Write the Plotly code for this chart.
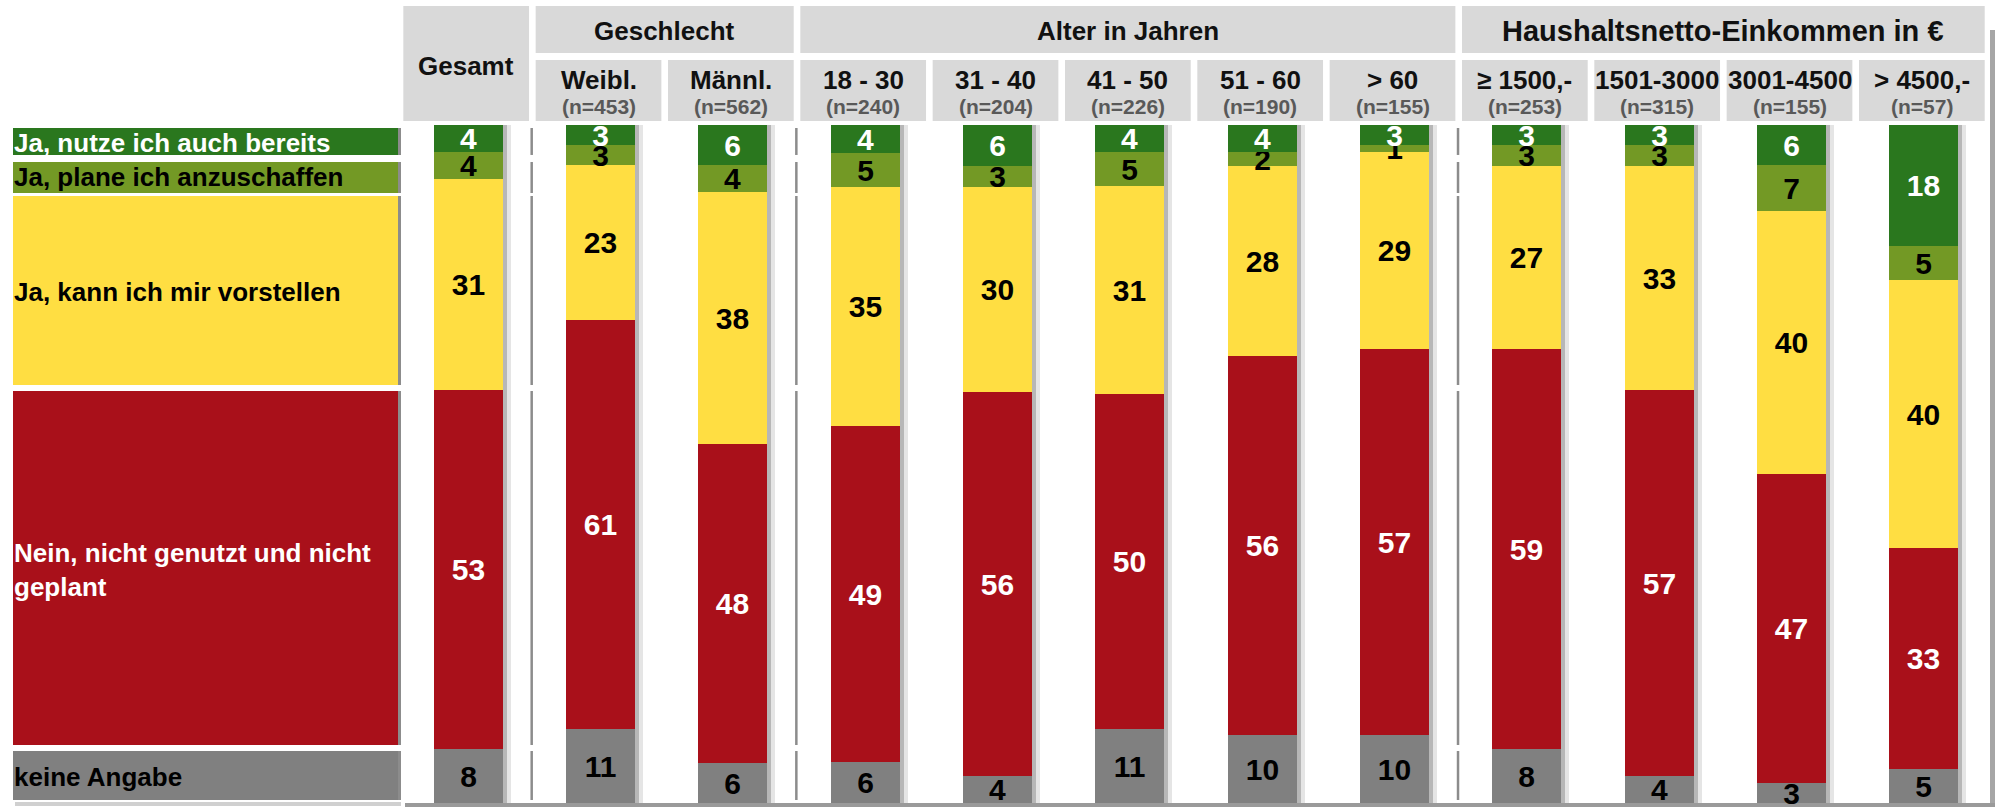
import plotly.graph_objects as go

# ---------------- data ----------------
categories = ["Gesamt", "Weibl.", "Männl.", "18 - 30", "31 - 40", "41 - 50", "51 - 60", "> 60",
              "≥ 1500,-", "1501-3000", "3001-4500", "> 4500,-"]
sample_sizes = ["", "(n=453)", "(n=562)", "(n=240)", "(n=204)", "(n=226)", "(n=190)", "(n=155)",
                "(n=253)", "(n=315)", "(n=155)", "(n=57)"]
group_names = ["Geschlecht", "Alter in Jahren", "Haushaltsnetto-Einkommen in €"]
group_first = [1, 3, 8]
group_last = [2, 7, 11]

keine_angabe = [8, 11, 6, 6, 4, 11, 10, 10, 8, 4, 3, 5]
nein = [53, 61, 48, 49, 56, 50, 56, 57, 59, 57, 47, 33]
vorstellen = [31, 23, 38, 35, 30, 31, 28, 29, 27, 33, 40, 40]
plane = [4, 3, 4, 5, 3, 5, 2, 1, 3, 3, 7, 5]
nutze = [4, 3, 6, 4, 6, 4, 4, 3, 3, 3, 6, 18]

series_names = ["keine Angabe", "Nein, nicht genutzt und nicht<br>geplant", "Ja, kann ich mir vorstellen",
                "Ja, plane ich anzuschaffen", "Ja, nutze ich auch bereits"]
series_values = [keine_angabe, nein, vorstellen, plane, nutze]

# ---------------- styles ----------------
FONT = "Liberation Sans, Arial, sans-serif"
colors = ["#808080", "#A9101A", "#FFDE42", "#739925", "#2A771E"]
text_colors = ["#000000", "#FFFFFF", "#000000", "#000000", "#FFFFFF"]
group_font_sizes = [26, 26, 29]
# legend rows (paper y spans, bottom -> top), text centre
legend_rows = [(0.0044, 0.0767, 0.0383), (0.0855, 0.6077, 0.3437), (0.6165, 0.8953, 0.7537),
               (0.8997, 0.9454, 0.9233), (0.9558, 0.9956, 0.9735)]
BAR_W = 0.52
W, H = 1997, 808
ML, MR, MT, MB = 402, 7, 125, 5
PW = W - ML - MR
PH = H - MT - MB


def py(px):
    return (H - MB - px) / PH


def pxx(px):
    return (px - ML) / PW


x = list(range(len(categories)))
fig = go.Figure()

# drop shadows (each alone in its stack -> normalised to full height)
for ax, col in [("x", "rgba(0,0,0,0.10)"), ("x2", "rgba(0,0,0,0.20)")]:
    fig.add_trace(go.Bar(x=x, y=keine_angabe, xaxis=ax, yaxis="y", width=BAR_W,
                         marker=dict(color=col, line_width=0), hoverinfo="skip", showlegend=False))

for vals, name, col, tcol in zip(series_values, series_names, colors, text_colors):
    fig.add_trace(go.Bar(
        x=x, y=vals, name=name, xaxis="x3", yaxis="y", width=BAR_W,
        marker=dict(color=col, line_width=0),
        text=vals, textposition="inside", insidetextanchor="middle", textangle=0,
        constraintext="none", cliponaxis=False,
        textfont=dict(family=FONT, size=30, color=tcol, weight="bold"),
        showlegend=False))

shapes = []
annotations = []


def ann(**kw):
    kw.setdefault("showarrow", False)
    kw.setdefault("xanchor", "center")
    kw.setdefault("yanchor", "middle")
    annotations.append(kw)


# header cells
HDR_GRAY = "#D9D9D9"
r1_top, r1_bot = py(6), py(53)
r2_top, r2_bot = py(60), py(121)
shapes.append(dict(type="rect", xref="x3", yref="paper", x0=-0.5 + 0.01, x1=0.5 - 0.04,
                   y0=r2_bot, y1=r1_top, fillcolor=HDR_GRAY, line_width=0, layer="below"))
ann(xref="x3", yref="paper", x=-0.015, y=py(66), text=categories[0],
    font=dict(family=FONT, size=26, color="#111111", weight="bold"))
for name, a, b, fs in zip(group_names, group_first, group_last, group_font_sizes):
    shapes.append(dict(type="rect", xref="x3", yref="paper", x0=a - 0.5 + 0.01, x1=b + 0.5 - 0.04,
                       y0=r1_bot, y1=r1_top, fillcolor=HDR_GRAY, line_width=0, layer="below"))
    ann(xref="x3", yref="paper", x=(a + b) / 2 - 0.015, y=py(31), text=name,
        font=dict(family=FONT, size=fs, color="#111111", weight="bold"))
for i in range(1, len(categories)):
    shapes.append(dict(type="rect", xref="x3", yref="paper", x0=i - 0.5 + 0.01, x1=i + 0.5 - 0.04,
                       y0=r2_bot, y1=r2_top, fillcolor=HDR_GRAY, line_width=0, layer="below"))
    ann(xref="x3", yref="paper", x=i - 0.015, y=py(80), text=categories[i],
        font=dict(family=FONT, size=26, color="#111111", weight="bold"))
    ann(xref="x3", yref="paper", x=i - 0.015, y=py(106), text=sample_sizes[i],
        font=dict(family=FONT, size=21, color="#595959", weight="bold"))

# legend column
for (y0, y1, yc), name, col, tcol in zip(legend_rows, series_names, colors, text_colors):
    shapes.append(dict(type="rect", xref="paper", yref="paper", x0=pxx(13), x1=pxx(401),
                       y0=y0, y1=y1, fillcolor=col, line_width=0, layer="below"))
    shapes.append(dict(type="rect", xref="paper", yref="paper", x0=pxx(398), x1=pxx(401),
                       y0=y0, y1=y1, fillcolor="#8C8C8C", line_width=0, layer="below"))
    ann(xref="paper", yref="paper", x=pxx(12), y=yc, xanchor="left",
        text=name, align="left", font=dict(family=FONT, size=26, color=tcol, weight="bold"))
    # separators between groups
    for a in group_first:
        shapes.append(dict(type="line", xref="x3", yref="paper", x0=a - 0.5 - 0.02, x1=a - 0.5 - 0.02,
                           y0=y0, y1=y1, line=dict(color="#8C8C8C", width=2.5), layer="below"))

# frame shadow
shapes.append(dict(type="rect", xref="paper", yref="paper", x0=pxx(1990), x1=pxx(1995),
                   y0=py(807), y1=py(30), fillcolor="#A6A6A6", line_width=0, layer="below"))
shapes.append(dict(type="rect", xref="paper", yref="paper", x0=pxx(405), x1=pxx(1995),
                   y0=py(807), y1=py(803), fillcolor="#9A9A9A", line_width=0, layer="below"))
shapes.append(dict(type="rect", xref="paper", yref="paper", x0=pxx(15), x1=pxx(401),
                   y0=py(806), y1=py(802), fillcolor="#D0D0D0", line_width=0, layer="below"))

fig.update_layout(
    width=W, height=H, margin=dict(l=ML, r=MR, t=MT, b=MB),
    barmode="stack", barnorm="percent", bargap=0,
    plot_bgcolor="white", paper_bgcolor="white", showlegend=False,
    xaxis=dict(range=[-0.5 - 0.06, 11.5 - 0.06], visible=False, fixedrange=True),
    xaxis2=dict(range=[-0.5 - 0.03, 11.5 - 0.03], overlaying="x", visible=False, fixedrange=True),
    xaxis3=dict(range=[-0.5, 11.5], overlaying="x", visible=False, fixedrange=True),
    yaxis=dict(range=[0, 100.02], visible=False, fixedrange=True),
    shapes=shapes, annotations=annotations,
)

fig.write_html("out.html", config={"displayModeBar": False},
               post_script="document.body.style.margin='0px';document.body.style.overflow='hidden';")
